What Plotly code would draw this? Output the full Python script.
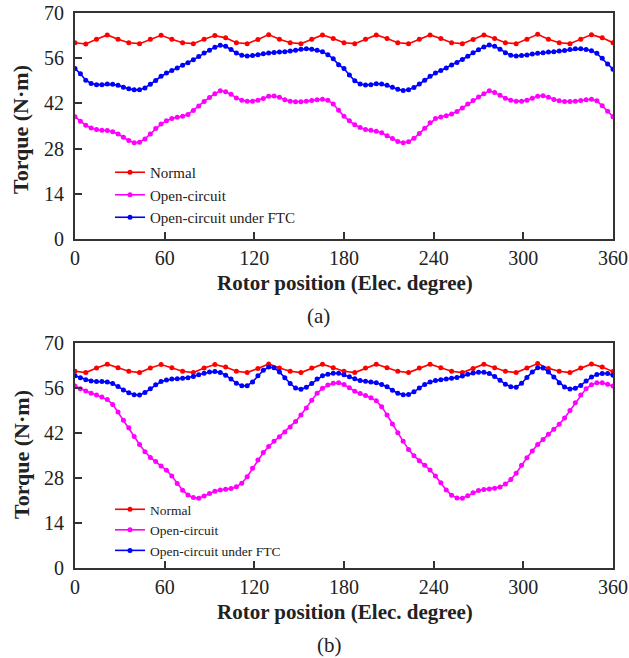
import plotly.graph_objects as go

# ---------------- data ----------------
pos_fine = [round(i * 3.6, 1) for i in range(101)]     # rotor position, 3.6 deg step
pos_coarse = [round(i * 7.2, 1) for i in range(51)]    # rotor position, 7.2 deg step

normal_a = [60.8, 60.4, 61.9, 63.2, 61.9, 60.8, 60.5, 61.9, 63.1, 61.9,
            60.8, 60.5, 61.9, 63.0, 62.3, 60.8, 60.5, 61.8, 63.3, 61.9,
            60.8, 60.5, 61.9, 63.2, 62.1, 60.8, 60.5, 61.9, 63.2, 62.1,
            60.8, 60.5, 61.9, 63.2, 62.1, 60.8, 60.5, 61.8, 63.2, 62.1,
            60.8, 60.5, 61.9, 63.4, 61.9, 60.8, 60.5, 61.9, 63.3, 62.3,
            60.8]
open_a = [37.9, 36.5, 35.2, 34.4, 33.9, 33.7, 33.6, 33.2, 32.5, 31.5,
          30.5, 29.8, 30.0, 31.0, 32.5, 34.2, 35.6, 36.6, 37.3, 37.7,
          38.0, 38.6, 39.8, 41.2, 42.6, 43.8, 45.0, 45.9, 45.6, 44.8,
          43.7, 43.0, 42.7, 42.7, 43.0, 43.5, 44.2, 44.3, 43.9, 43.1,
          42.7, 42.5, 42.5, 42.7, 42.9, 43.1, 43.3, 43.0, 41.8, 39.9,
          38.0, 36.6, 35.4, 34.5, 33.9, 33.7, 33.4, 32.9, 32.0, 31.1,
          30.2, 29.8, 30.1, 31.2, 32.7, 34.3, 36.0, 37.3, 37.8, 38.2,
          38.7, 39.5, 40.6, 41.8, 42.9, 44.0, 45.0, 45.9, 45.4, 44.5,
          43.6, 43.0, 42.7, 42.7, 43.0, 43.6, 44.2, 44.4, 43.9, 43.2,
          42.8, 42.6, 42.6, 42.7, 42.9, 43.1, 43.3, 42.8, 41.3, 39.6,
          37.9]
ftc_a = [52.8, 51.2, 49.2, 48.2, 47.8, 47.8, 48.0, 47.9, 47.6, 47.0,
         46.5, 46.2, 46.2, 46.8, 47.9, 49.1, 50.4, 51.4, 52.2, 53.0,
         53.8, 54.6, 55.5, 56.5, 57.6, 58.5, 59.4, 60.0, 59.7, 58.7,
         57.6, 56.9, 56.7, 56.8, 57.1, 57.4, 57.6, 57.8, 57.9, 58.0,
         58.2, 58.5, 58.8, 58.9, 58.8, 58.5, 58.0, 57.1, 55.8, 54.0,
         52.8, 50.8, 49.0, 48.0, 47.7, 47.8, 48.1, 48.0, 47.6, 47.0,
         46.4, 46.0, 46.2, 46.9, 48.0, 49.2, 50.4, 51.4, 52.2, 53.0,
         53.9, 54.7, 55.6, 56.6, 57.7, 58.6, 59.5, 60.1, 59.7, 58.8,
         57.7, 56.9, 56.7, 56.8, 57.0, 57.3, 57.5, 57.7, 57.9, 58.0,
         58.2, 58.4, 58.7, 58.9, 58.9, 58.7, 58.3, 57.5, 56.0, 54.2,
         52.6]

normal_b = [61.2, 60.8, 62.2, 63.4, 62.3, 61.2, 60.8, 62.2, 63.3, 62.3,
            61.2, 60.8, 62.2, 63.3, 62.5, 61.2, 60.8, 62.1, 63.5, 62.2,
            61.2, 60.8, 62.2, 63.4, 62.3, 61.2, 60.8, 62.2, 63.4, 62.3,
            61.2, 60.8, 62.2, 63.4, 62.3, 61.2, 60.8, 62.1, 63.4, 62.3,
            61.2, 60.8, 62.2, 63.6, 62.1, 61.2, 60.8, 62.2, 63.5, 62.5,
            61.1]
open_b = [56.6, 55.8, 55.1, 54.4, 53.8, 53.2, 52.4, 50.9, 48.5, 46.0,
          43.6, 40.9, 38.4, 36.2, 34.4, 33.1, 31.7, 30.4, 28.6, 26.3,
          24.2, 22.7, 21.9, 21.7, 22.4, 23.2, 23.9, 24.3, 24.5, 24.7,
          25.3, 26.4, 28.4, 31.0, 33.6, 35.9, 37.8, 39.4, 40.8, 42.3,
          43.9, 45.6, 47.6, 49.8, 52.2, 54.4, 55.9, 56.9, 57.5, 57.6,
          57.1, 56.1, 55.0, 54.3, 53.7, 53.0, 52.0, 50.2, 47.6, 44.8,
          42.1, 39.4, 36.9, 34.9, 33.4, 32.0, 30.5, 28.6, 26.5, 24.3,
          22.6, 21.8, 21.7, 22.5, 23.4, 24.1, 24.4, 24.6, 24.8, 25.2,
          26.1, 27.5, 29.5, 32.0, 34.3, 36.4, 38.4, 40.0, 41.6, 43.2,
          44.7, 46.7, 49.0, 51.4, 53.8, 55.8, 57.0, 57.6, 57.6, 57.2,
          56.6]
ftc_b = [59.8, 59.2, 58.6, 58.2, 58.0, 58.0, 57.9, 57.4, 56.5, 55.4,
         54.5, 53.9, 53.8, 54.6, 55.8, 57.0, 58.0, 58.5, 58.8, 58.9,
         59.0, 59.2, 59.6, 60.1, 60.6, 61.0, 61.1, 60.8, 60.0, 58.8,
         57.5, 56.7, 56.7, 57.9, 59.8, 61.5, 62.5, 62.3, 61.0, 59.2,
         57.4, 56.0, 55.6, 56.2, 57.4, 58.8, 59.8, 60.3, 60.6, 60.6,
         60.1, 59.5, 58.9, 58.3, 58.1, 57.9, 57.6, 57.1, 56.4, 55.3,
         54.4, 53.9, 54.0, 54.8, 56.0, 57.1, 57.9, 58.3, 58.6, 58.8,
         59.0, 59.3, 59.7, 60.3, 60.7, 60.9, 60.9, 60.5, 59.6, 58.4,
         57.2, 56.4, 56.2, 57.5, 59.3, 61.0, 62.3, 62.2, 61.0, 59.4,
         57.6, 56.3, 55.7, 55.9, 56.8, 58.2, 59.4, 60.2, 60.5, 60.5,
         60.0]

series_names = ["Normal", "Open-circuit", "Open-circuit under FTC"]
series_colors = ["#FF0000", "#FF00FF", "#0000FF"]
x_ticks = [0, 60, 120, 180, 240, 300, 360]
y_ticks = [0, 14, 28, 42, 56, 70]
x_title = "Rotor position (Elec. degree)"
y_title = "Torque (N·m)"
captions = ["(a)", "(b)"]

# ---------------- figure ----------------
FONT = "Liberation Serif"
INK = "#222222"
fig = go.Figure()

panels = [
    ("x", "y", "legend", [pos_coarse, pos_fine, pos_fine], [normal_a, open_a, ftc_a]),
    ("x2", "y2", "legend2", [pos_coarse, pos_fine, pos_fine], [normal_b, open_b, ftc_b]),
]
for xa, ya, lg, xs, ys in panels:
    for name, color, xv, yv in zip(series_names, series_colors, xs, ys):
        fig.add_trace(go.Scatter(
            x=xv, y=yv, name=name, mode="lines+markers",
            line=dict(color=color, width=1.6),
            marker=dict(color=color, size=5, symbol="circle"),
            xaxis=xa, yaxis=ya, legend=lg,
        ))

W, H = 629, 658
ml, mr, mt, mb = 75, 16, 13, 90
pw = W - ml - mr          # 538
ph = H - mt - mb          # 555


def px_x(page_x):
    return (page_x - ml) / pw


def px_y(page_y):
    return (H - mb - page_y) / ph


top_dom = [px_y(239), 1.0]
bot_dom = [0.0, px_y(343)]

axis_common = dict(
    showline=True, linecolor="#333333", linewidth=2, mirror=True,
    ticks="inside", ticklen=7, tickwidth=1.5, tickcolor="#333333",
    showgrid=False, zeroline=False, automargin=False,
    ticklabeloverflow="allow",
    tickfont=dict(family=FONT, size=20, color=INK),
)

fig.update_layout(
    width=W, height=H,
    margin=dict(l=ml, r=mr, t=mt, b=mb),
    plot_bgcolor="white", paper_bgcolor="white",
    font=dict(family=FONT, color=INK),
    xaxis=dict(domain=[0, 1], anchor="y", range=[0, 360], tickvals=x_ticks, **axis_common),
    yaxis=dict(domain=top_dom, anchor="x", range=[0, 70], tickvals=y_ticks,
               ticklabelstandoff=5, **axis_common),
    xaxis2=dict(domain=[0, 1], anchor="y2", range=[0, 360], tickvals=x_ticks, **axis_common),
    yaxis2=dict(domain=bot_dom, anchor="x2", range=[0, 70], tickvals=y_ticks,
                ticklabelstandoff=5, **axis_common),
    legend=dict(x=px_x(110), y=px_y(156), xanchor="left", yanchor="top",
                bgcolor="rgba(0,0,0,0)", font=dict(family=FONT, size=15, color=INK),
                itemwidth=30, tracegroupgap=0),
    legend2=dict(x=px_x(110), y=px_y(494), xanchor="left", yanchor="top",
                 bgcolor="rgba(0,0,0,0)", font=dict(family=FONT, size=13.5, color=INK),
                 itemwidth=30, tracegroupgap=0),
    showlegend=True,
)

# axis titles
for ypage in [283, 612]:
    fig.add_annotation(text="<b>" + x_title + "</b>", xref="paper", yref="paper",
                       x=px_x(345), y=px_y(ypage), xanchor="center", yanchor="middle",
                       showarrow=False, font=dict(family=FONT, size=21, color=INK))
for ypage in [130, 455]:
    fig.add_annotation(text="<b>" + y_title + "</b>", xref="paper", yref="paper",
                       x=px_x(21), y=px_y(ypage), xanchor="center", yanchor="middle",
                       textangle=-90, showarrow=False,
                       font=dict(family=FONT, size=22, color=INK))

# panel captions
for cap, xpage, ypage in zip(captions, [318, 329], [316, 645]):
    fig.add_annotation(text=cap, xref="paper", yref="paper",
                       x=px_x(xpage), y=px_y(ypage),
                       xanchor="center", yanchor="middle", showarrow=False,
                       font=dict(family=FONT, size=21, color=INK))

# remove the default 8px page margin so the 629x658 figure fills the window exactly
fig.write_html("out.html",
               config={"displayModeBar": False},
               post_script="document.body.style.margin='0';document.body.style.overflow='hidden';")
